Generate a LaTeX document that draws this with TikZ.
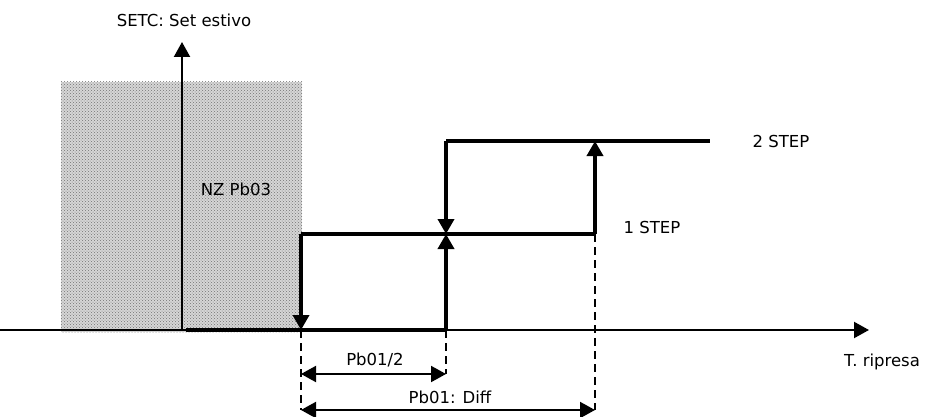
\documentclass[tikz,border=0pt]{standalone}
\usepackage{fontspec}
\setmainfont{DejaVu Sans}
\usetikzlibrary{arrows.meta,patterns}

\tikzset{
    axisline/.style={line width=2.2pt},
    stepline/.style={line width=3.6pt},
    guide/.style={line width=1.6pt, dash pattern=on 8pt off 5pt},
    dimline/.style={line width=2pt, <->},
}

\begin{document}
\begin{tikzpicture}[x=1pt, y=1pt, >={Triangle[length=15pt,width=16pt]},
    font=\fontsize{16.5}{19}\selectfont]

    \def\Lo{86}
    \def\Li{182}
    \def\Lii{275}

    \useasboundingbox (0,0) rectangle (927,416);

    % neutral zone
    \fill[black!16] (61,84) rectangle (302,334);
    \fill[pattern=crosshatch dots, pattern color=black!55] (61,84) rectangle (302,334);
    \node (nz) at (236,227) {NZ Pb03};

    % axis
    \coordinate (xs) at (0,\Lo);
    \coordinate (xe) at (869,\Lo);
    \coordinate (o) at (182,\Lo);
    \coordinate (ye) at (182,374);
    \draw[axisline, ->] (xs) -- (xe);
    \draw[axisline, ->] (o) -- (ye);
    \node (setc) at (184,396) {SETC: Set estivo};
    \node (trip) at (882,54) {T. ripresa};

    % steps
    \coordinate (s0) at (186,\Lo);
    \coordinate (a0) at (301,\Lo);
    \coordinate (a1) at (301,\Li);
    \coordinate (b0) at (446,\Lo);
    \coordinate (b1) at (446,\Li);
    \coordinate (b2) at (446,\Lii);
    \coordinate (c1) at (595,\Li);
    \coordinate (c2) at (595,\Lii);
    \coordinate (e2) at (710,\Lii);

    \draw[stepline] (s0) -- (b0);
    \draw[stepline, ->] (b0) -- (b1);
    \draw[stepline, ->] (a1) -- (a0);
    \draw[stepline] (a1) -- (c1);
    \draw[stepline, ->] (c1) -- (c2);
    \draw[stepline, ->] (b2) -- (b1);
    \draw[stepline] (b2) -- (e2);

    \node (st1) at (652,189) {1 STEP};
    \node (st2) at (781,275) {2 STEP};

    % dimensions
    \coordinate (da) at (301,6);
    \coordinate (db) at (446,42);
    \coordinate (dc) at (595,6);
    \coordinate (dm) at (301,42);
    \draw[guide] (a0) -- (da);
    \draw[guide] (b0) -- (db);
    \draw[guide] (c1) -- (dc);
    \draw[dimline] (dm) -- (db);
    \draw[dimline] (da) -- (dc);
    \node (half) at (375,56) {Pb01/2};
    \node (diff) at (450,19) {Pb01: Diff};
\end{tikzpicture}
\end{document}
